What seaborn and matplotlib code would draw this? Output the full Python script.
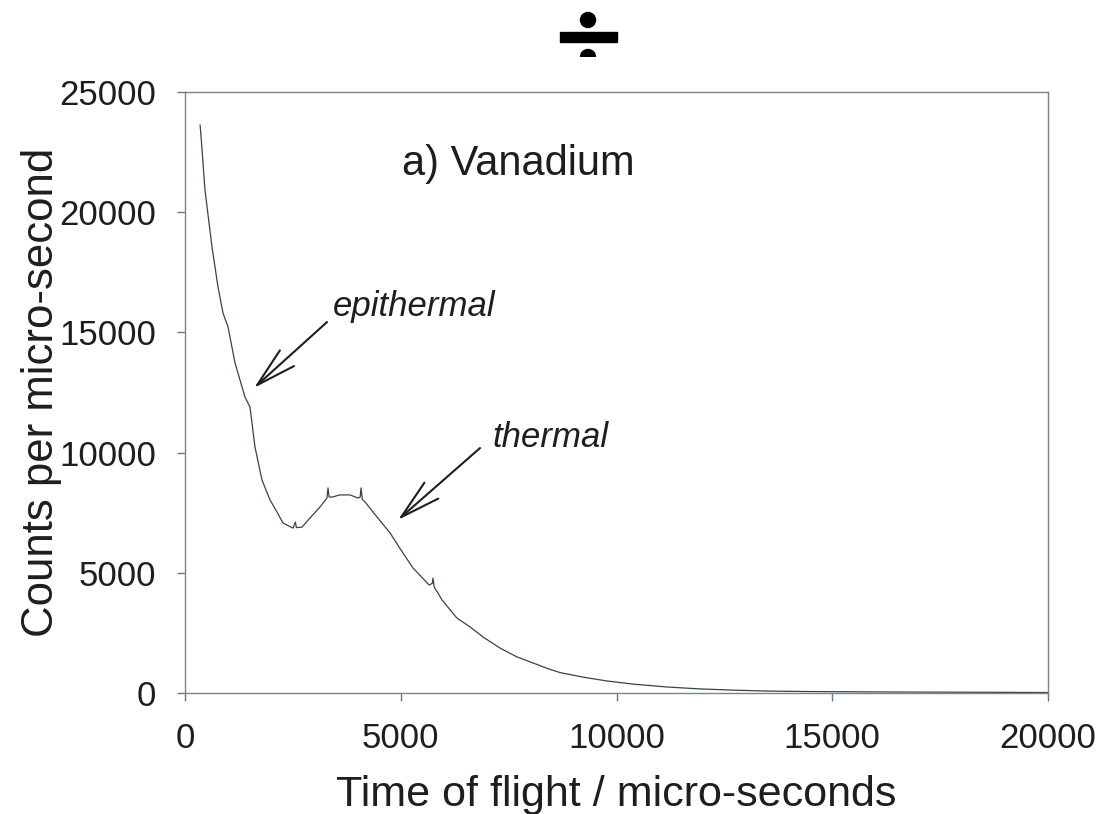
import matplotlib
matplotlib.use("Agg")
import matplotlib.pyplot as plt
from matplotlib.patches import Rectangle, Ellipse
import seaborn as sns
import pandas as pd

# ---- data ----
tof_us = [350, 395, 463, 626, 765, 881, 997, 1159, 1390, 1506, 1622, 1784, 1970,
          2132, 2271, 2503, 2560, 2580, 2711, 2897, 3129, 3290, 3314, 3340, 3407,
          3592, 3824, 4009, 4060, 4079, 4110, 4171, 4450, 4751, 5052, 5284, 5660,
          5730, 5747, 5775, 5863, 5955, 6300, 6605, 6906, 7300, 7694, 8065, 8400,
          8690, 9224, 9780, 10383, 11170, 11935, 12700, 13490, 14500, 16600, 18500,
          20000]
counts = [23630, 22600, 20920, 18550, 16890, 15800, 15230, 13730, 12310, 11900,
          10230, 8860, 8030, 7530, 7070, 6860, 7110, 6880, 6900, 7280, 7740, 8110,
          8530, 8150, 8150, 8240, 8240, 8110, 8150, 8530, 8050, 7950, 7320, 6660,
          5820, 5200, 4490, 4560, 4780, 4400, 4160, 3870, 3120, 2750, 2330, 1870,
          1500, 1250, 1020, 850, 660, 500, 370, 250, 170, 120, 80, 60, 40, 30, 20]
x_ticks = [0, 5000, 10000, 15000, 20000]
y_ticks = [0, 5000, 10000, 15000, 20000, 25000]
panel_title = "a) Vanadium"
labels = ["epithermal", "thermal"]
# arrow (tail -> head) and label anchors, in data units
arrow_tails = [(3291, 15430), (6837, 10190)]
arrow_heads = [(1599, 12690), (4936, 7200)]
label_pos = [(3430, 16060), (7115, 10620)]

sns.set_style("white")
plt.rcParams["font.family"] = ["Liberation Sans", "DejaVu Sans"]

W, H = 1102, 814
fig = plt.figure(figsize=(W / 100, H / 100), dpi=100)
ax = fig.add_axes([185 / W, 1 - 693 / H, (1048 - 185) / W, (693 - 92) / H])

df = pd.DataFrame({"tof": tof_us, "counts": counts})
sns.lineplot(data=df, x="tof", y="counts", ax=ax, color="#34454b", linewidth=0.9,
             estimator=None, sort=False)

ax.set_xlim(0, 20000)
ax.set_ylim(0, 25000)
ax.set_xticks(x_ticks)
ax.set_yticks(y_ticks)
ax.set_xticklabels([str(v) for v in x_ticks])
ax.set_yticklabels([str(v) for v in y_ticks])
ax.tick_params(axis="both", direction="out", length=6, width=1.0, color="#6d777d",
               labelsize=25, labelcolor="#1e1e1e", bottom=True, left=True,
               top=False, right=False, pad=15)
for s in ax.spines.values():
    s.set_visible(True)
    s.set_color("#7a848a")
    s.set_linewidth(1.0)

ax.set_xlabel("Time of flight / micro-seconds", fontsize=31, color="#1e1e1e", labelpad=14)
ax.set_ylabel("Counts per micro-second", fontsize=31.5, color="#1e1e1e", labelpad=-2)

ax.text(0.252, 0.88, panel_title, transform=ax.transAxes, fontsize=30,
        color="#1e1e1e", ha="left", va="center")

for lab, tail, head, pos in zip(labels, arrow_tails, arrow_heads, label_pos):
    ax.annotate("", xy=head, xytext=tail,
                arrowprops=dict(arrowstyle="->,head_length=1.45,head_width=0.38",
                                mutation_scale=20, color="#1e1e1e", lw=1.5,
                                shrinkA=0, shrinkB=0))
    ax.text(pos[0], pos[1], lab, fontsize=25, style="italic", color="#1e1e1e",
            ha="left", va="center")

# division-sign decoration at the top (clipped at the bottom like the reference)
def fx(px):
    return px / W

def fy(py):
    return 1 - py / H

clip = Rectangle((0, fy(57)), 1, 1, transform=fig.transFigure, visible=False)
fig.add_artist(clip)
fig.add_artist(Rectangle((fx(560), fy(42)), (617 - 560) / W, 10 / H,
                         transform=fig.transFigure, color="black"))
fig.add_artist(Ellipse((fx(588), fy(20)), 15 / W, 15 / H,
                       transform=fig.transFigure, color="black"))
bot = Ellipse((fx(588), fy(57)), 15 / W, 15 / H, transform=fig.transFigure, color="black")
fig.add_artist(bot)
bot.set_clip_path(clip)

fig.savefig("out.png", dpi=100)
